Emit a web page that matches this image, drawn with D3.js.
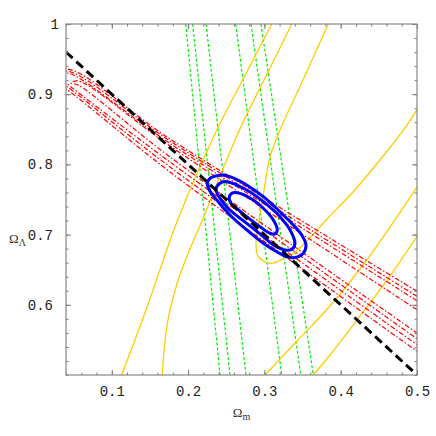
<!DOCTYPE html>
<html>
<head>
<meta charset="utf-8">
<script src="https://cdn.jsdelivr.net/npm/d3@7"></script>
<style>
  body { margin: 0; background: #fff; }
  svg { display: block; }
</style>
</head>
<body>
<div class="chart-container"></div>
<script>
// Omega_m / Omega_Lambda plane
var xTicks = [0.1, 0.2, 0.3, 0.4, 0.5];
var yTicks = [0.6, 0.7, 0.8, 0.9, 1];

// flat universe line
var flatLine = [[0.04, 0.96], [0.5, 0.5]];

// blue contours (1, 2, 3 sigma)
var blueInner = [[0.2540,0.7540],[0.2592,0.7597],[0.2680,0.7588],[0.2855,0.7493],[0.2986,0.7375],[0.3117,0.7208],
                 [0.3169,0.7066],[0.3139,0.7009],[0.3073,0.7019],[0.2942,0.7113],[0.2768,0.7255],[0.2637,0.7375],
                 [0.2558,0.7454]];
var blueMiddle = [[0.2366,0.7645],[0.2418,0.7731],[0.2506,0.7754],[0.2768,0.7635],[0.2986,0.7469],[0.3204,0.7255],
                  [0.3336,0.7066],[0.3401,0.6876],[0.3358,0.6791],[0.3270,0.6781],[0.3117,0.6852],[0.2986,0.6970],
                  [0.2768,0.7161],[0.2549,0.7350],[0.2418,0.7517]];
var blueOuter = [[0.2252,0.7731],[0.2287,0.7802],[0.2330,0.7825],[0.2440,0.7849],[0.2549,0.7825],[0.2768,0.7707],
                 [0.2986,0.7540],[0.3204,0.7326],[0.3379,0.7137],[0.3489,0.6994],[0.3545,0.6852],[0.3510,0.6734],
                 [0.3423,0.6677],[0.3292,0.6685],[0.3161,0.6756],[0.2986,0.6876],[0.2768,0.7066],[0.2549,0.7279],
                 [0.2375,0.7493],[0.2278,0.7635]];

// yellow contours
var yellowA = [[0.1130,0.5],[0.1458,0.5954],[0.1864,0.7208],[0.2396,0.8533],[0.2746,0.9266],[0.3096,1.0]];
var yellowB = [[0.1662,0.5],[0.1684,0.5338],[0.1741,0.5812],[0.1851,0.6286],[0.2012,0.6762],[0.2199,0.7236],
               [0.2444,0.7899],[0.2703,0.8561],[0.2955,0.9117],[0.3204,0.9658],[0.3358,1.0]];
var yellowC = [[0.3837,1.0],[0.3506,0.9202],[0.3204,0.8490],[0.3073,0.8105],[0.2995,0.7635],[0.2929,0.7208],
               [0.2890,0.6880],[0.2920,0.6685],[0.3073,0.6591],[0.3244,0.6652],[0.3401,0.6752],[0.3532,0.6880],
               [0.3834,0.7236],[0.4161,0.7607],[0.4515,0.8063],[0.4869,0.8561],[0.5,0.878]];
var yellowD = [[0.3008,0.5],[0.3427,0.5484],[0.3860,0.5983],[0.4253,0.6510],[0.4620,0.7066],[0.5,0.7678]];
var yellowE = [[0.3641,0.5],[0.3860,0.5285],[0.4253,0.5840],[0.4646,0.6410],[0.5,0.6980]];

// green bands (top and bottom crossings)
var greenLines = [
  [[0.1969,1],[0.2418,0.5]],
  [[0.2060,1],[0.2549,0.5]],
  [[0.2235,1],[0.2759,0.5]],
  [[0.2624,1],[0.3227,0.5]],
  [[0.2824,1],[0.3476,0.5]],
  [[0.2955,1],[0.3641,0.5]]
];

// red contours: upper branch right->left, tip, lower branch left->right
var redLoops = [
  [[0.5,0.6192],[0.1763,0.8362],[0.04,0.9359],[0.0190,0.9217],[0.04,0.9075],[0.1763,0.7892],[0.5,0.5338]],
  [[0.5,0.6121],[0.1763,0.8333],[0.04,0.9330],[0.0243,0.9224],[0.04,0.9117],[0.1763,0.7963],[0.5,0.5432]],
  [[0.5,0.6058],[0.1763,0.8298],[0.04,0.9302],[0.0321,0.9231],[0.04,0.9160],[0.1763,0.8034],[0.5,0.5517]],
  [[0.5,0.5930],[0.1763,0.8262],[0.0557,0.9188],[0.0466,0.9160],[0.0557,0.9131],[0.1763,0.8105],[0.5,0.5598]]
];

var margin = { top: 24, right: 19, bottom: 61, left: 66 },
    width = 436 - margin.left - margin.right,
    height = 436 - margin.top - margin.bottom;

var x = d3.scaleLinear().domain([0.04, 0.5]).range([0, width]);
var y = d3.scaleLinear().domain([0.5, 1]).range([height, 0]);

var svg = d3.select(".chart-container").append("svg")
    .attr("width", 436)
    .attr("height", 436)
  .append("g")
    .attr("transform", "translate(" + margin.left + "," + margin.top + ")");

svg.append("clipPath").attr("id", "plot-clip")
  .append("rect").attr("width", width).attr("height", height);

var plot = svg.append("g").attr("clip-path", "url(#plot-clip)");

var straightLine = d3.line()
    .x(function(d) { return x(d[0]); })
    .y(function(d) { return y(d[1]); });
var smoothLine = d3.line()
    .x(function(d) { return x(d[0]); })
    .y(function(d) { return y(d[1]); })
    .curve(d3.curveCatmullRom);
var loopLine = d3.line()
    .x(function(d) { return x(d[0]); })
    .y(function(d) { return y(d[1]); })
    .curve(d3.curveCatmullRomClosed);

// green
plot.selectAll(".green")
    .data(greenLines)
    .enter().append("path")
    .attr("class", "green")
    .attr("d", straightLine)
    .attr("fill", "none")
    .attr("stroke", "#00ee00")
    .attr("stroke-width", 1.2)
    .attr("stroke-dasharray", "3,2");

// yellow
plot.selectAll(".yellow")
    .data([yellowA, yellowB, yellowC, yellowD, yellowE])
    .enter().append("path")
    .attr("class", "yellow")
    .attr("d", smoothLine)
    .attr("fill", "none")
    .attr("stroke", "#ffcc00")
    .attr("stroke-width", 1.3);

// red
plot.selectAll(".red")
    .data(redLoops)
    .enter().append("path")
    .attr("class", "red")
    .attr("d", smoothLine)
    .attr("fill", "none")
    .attr("stroke", "#ff0000")
    .attr("stroke-width", 1.2)
    .attr("stroke-dasharray", "5,2,1.5,2");

// blue
plot.selectAll(".blue")
    .data([blueInner, blueMiddle, blueOuter])
    .enter().append("path")
    .attr("class", "blue")
    .attr("d", loopLine)
    .attr("fill", "none")
    .attr("stroke", "#0000ff")
    .attr("stroke-width", 3);

// black dashed
plot.append("path")
    .datum(flatLine)
    .attr("d", straightLine)
    .attr("fill", "none")
    .attr("stroke", "#000")
    .attr("stroke-width", 3)
    .attr("stroke-dasharray", "9,5");

// Frame and ticks
var minorX = d3.range(0.04, 0.5001, 0.02);
var minorY = d3.range(0.5, 1.0001, 0.02);

function styleAxis(g) {
  g.select(".domain").remove();
  g.selectAll("line").attr("stroke", "#777");
  g.selectAll("text")
    .attr("fill", "#222")
    .style("font-family", "'Liberation Mono', 'DejaVu Sans Mono', monospace")
    .style("font-size", "14px");
}

svg.append("g").attr("transform", "translate(0," + height + ")")
    .call(d3.axisBottom(x).tickValues(minorX).tickSize(-2.5).tickFormat("")).call(styleAxis);
svg.append("g").attr("transform", "translate(0," + height + ")")
    .call(d3.axisBottom(x).tickValues(xTicks).tickSize(-5).tickPadding(11).tickFormat(d3.format(".1f"))).call(styleAxis);
svg.append("g")
    .call(d3.axisTop(x).tickValues(minorX).tickSize(-2.5).tickFormat("")).call(styleAxis);
svg.append("g")
    .call(d3.axisTop(x).tickValues(xTicks).tickSize(-5).tickFormat("")).call(styleAxis);

svg.append("g")
    .call(d3.axisLeft(y).tickValues(minorY).tickSize(-2.5).tickFormat("")).call(styleAxis);
svg.append("g")
    .call(d3.axisLeft(y).tickValues(yTicks).tickSize(-5).tickPadding(13)
      .tickFormat(function(d) { return d === 1 ? "1" : d3.format(".1f")(d); })).call(styleAxis)
    .selectAll("text")
    .attr("dx", function(d) { return d === 1 ? 6 : 0; });
svg.append("g").attr("transform", "translate(" + width + ",0)")
    .call(d3.axisRight(y).tickValues(minorY).tickSize(-2.5).tickFormat("")).call(styleAxis);
svg.append("g").attr("transform", "translate(" + width + ",0)")
    .call(d3.axisRight(y).tickValues(yTicks).tickSize(-5).tickFormat("")).call(styleAxis);

svg.append("rect")
    .attr("width", width)
    .attr("height", height)
    .attr("fill", "none")
    .attr("stroke", "#888")
    .attr("stroke-width", 1.2);

// Axis titles
var xt = svg.append("text")
    .attr("x", width / 2)
    .attr("y", height + 42)
    .attr("text-anchor", "middle")
    .style("font-family", "'Liberation Serif', serif")
    .style("font-size", "13px")
    .attr("fill", "#333")
    .text("\u03A9");
xt.append("tspan").attr("dy", 3).style("font-size", "10px").text("m");

var yt = svg.append("text")
    .attr("x", -57)
    .attr("y", 219)
    .style("font-family", "'Liberation Serif', serif")
    .style("font-size", "13px")
    .attr("fill", "#333")
    .text("\u03A9");
yt.append("tspan").attr("dy", 3).style("font-size", "10px").text("\u039B");
</script>
</body>
</html>
